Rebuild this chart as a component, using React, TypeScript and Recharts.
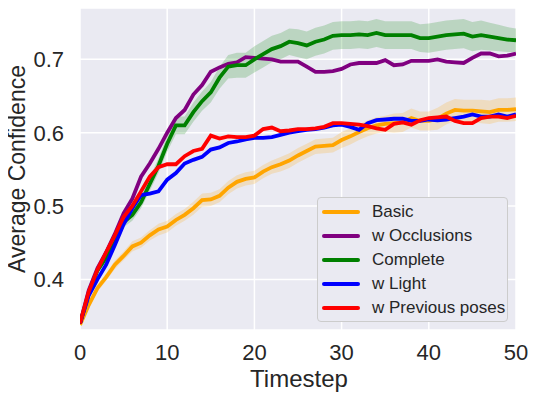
import {
  ComposedChart,
  Line,
  Area,
  XAxis,
  YAxis,
  CartesianGrid,
  Legend,
  Label,
} from "recharts";

const timesteps = [
  0, 1, 2, 3, 4, 5, 6, 7, 8, 9, 10, 11, 12, 13, 14, 15, 16, 17, 18, 19, 20, 21, 22, 23, 24, 25,
  26, 27, 28, 29, 30, 31, 32, 33, 34, 35, 36, 37, 38, 39, 40, 41, 42, 43, 44, 45, 46, 47, 48, 49, 50,
];

const basic = [
  0.338, 0.365, 0.388, 0.403, 0.42, 0.432, 0.445, 0.45, 0.46, 0.468, 0.472, 0.481, 0.488, 0.497,
  0.508, 0.509, 0.514, 0.525, 0.533, 0.537, 0.539, 0.547, 0.553, 0.557, 0.562, 0.569, 0.575, 0.581,
  0.582, 0.583, 0.59, 0.595, 0.601, 0.606, 0.61, 0.612, 0.613, 0.614, 0.62, 0.616, 0.616, 0.619,
  0.626, 0.631, 0.63, 0.63, 0.629, 0.628, 0.631, 0.631, 0.632,
];
const occlusions = [
  0.34, 0.385, 0.415, 0.437, 0.462, 0.49, 0.51, 0.54, 0.558, 0.578, 0.6, 0.62, 0.631, 0.652, 0.665,
  0.683, 0.689, 0.694, 0.696, 0.703, 0.702, 0.701, 0.7, 0.697, 0.697, 0.697, 0.69, 0.683, 0.683,
  0.684, 0.687, 0.693, 0.695, 0.695, 0.695, 0.699, 0.692, 0.693, 0.698, 0.698, 0.698, 0.7, 0.697,
  0.696, 0.695, 0.702, 0.708, 0.708, 0.704, 0.705, 0.708,
];
const complete = [
  0.34, 0.38, 0.412, 0.43, 0.45, 0.478, 0.488, 0.505, 0.53, 0.555, 0.585, 0.61, 0.61, 0.628, 0.643,
  0.655, 0.675, 0.69, 0.692, 0.692, 0.7, 0.707, 0.714, 0.718, 0.724, 0.722, 0.719, 0.724, 0.727,
  0.732, 0.733, 0.733, 0.734, 0.733, 0.736, 0.733, 0.733, 0.733, 0.733, 0.729, 0.729, 0.731, 0.733,
  0.734, 0.735, 0.731, 0.733, 0.731, 0.729, 0.727, 0.726,
];
const light = [
  0.34, 0.378, 0.4, 0.42, 0.447, 0.475, 0.497, 0.515, 0.517, 0.52, 0.536, 0.545, 0.558, 0.563,
  0.567, 0.577, 0.58, 0.586, 0.588, 0.591, 0.593, 0.593, 0.594, 0.597, 0.6, 0.602, 0.604, 0.605,
  0.607, 0.61, 0.611, 0.608, 0.604, 0.613, 0.617, 0.618, 0.619, 0.619, 0.616, 0.616, 0.618, 0.617,
  0.618, 0.62, 0.622, 0.625, 0.622, 0.622, 0.625, 0.622, 0.625,
];
const prevPoses = [
  0.34, 0.383, 0.413, 0.437, 0.46, 0.485, 0.5, 0.52, 0.54, 0.553, 0.557, 0.557, 0.568, 0.575, 0.578,
  0.596, 0.592, 0.595, 0.594, 0.594, 0.596, 0.605, 0.607, 0.602, 0.603, 0.605, 0.605, 0.606, 0.608,
  0.613, 0.613, 0.612, 0.611, 0.609, 0.606, 0.604, 0.612, 0.614, 0.611, 0.617, 0.62, 0.621, 0.622,
  0.616, 0.613, 0.613, 0.62, 0.622, 0.622, 0.62, 0.623,
];

// half-width of the shaded confidence bands
const basicSpread = [
  0, 0.004, 0.005, 0.005, 0.006, 0.006, 0.007, 0.007, 0.007, 0.008, 0.008, 0.008, 0.008, 0.009,
  0.009, 0.009, 0.009, 0.009, 0.009, 0.009, 0.009, 0.009, 0.009, 0.01, 0.01, 0.01, 0.01, 0.01,
  0.01, 0.01, 0.011, 0.011, 0.011, 0.011, 0.011, 0.011, 0.013, 0.013, 0.013, 0.013, 0.013, 0.015,
  0.015, 0.015, 0.015, 0.015, 0.016, 0.016, 0.016, 0.016, 0.016,
];
const completeSpread = [
  0, 0.003, 0.004, 0.005, 0.006, 0.007, 0.008, 0.008, 0.009, 0.01, 0.011, 0.012, 0.012, 0.013,
  0.013, 0.014, 0.015, 0.016, 0.017, 0.017, 0.018, 0.018, 0.018, 0.018, 0.018, 0.019, 0.019, 0.019,
  0.019, 0.019, 0.019, 0.019, 0.019, 0.019, 0.019, 0.019, 0.019, 0.019, 0.019, 0.019, 0.02, 0.02,
  0.02, 0.02, 0.02, 0.02, 0.02, 0.019, 0.018, 0.017, 0.016,
];

const xTicks = [0, 10, 20, 30, 40, 50];
const yTicks = [0.4, 0.5, 0.6, 0.7];

const series = [
  { key: "basic", name: "Basic", color: "#FFA500" },
  { key: "occlusions", name: "w Occlusions", color: "#800080" },
  { key: "complete", name: "Complete", color: "#008000" },
  { key: "light", name: "w Light", color: "#0000FF" },
  { key: "prevPoses", name: "w Previous poses", color: "#FF0000" },
];

const rows = timesteps.map((t, i) => ({
  t,
  basic: basic[i],
  occlusions: occlusions[i],
  complete: complete[i],
  light: light[i],
  prevPoses: prevPoses[i],
  basicBand: [basic[i] - basicSpread[i], basic[i] + basicSpread[i]],
  completeBand: [complete[i] - completeSpread[i], complete[i] + completeSpread[i]],
}));

const FONT = '"Liberation Sans", Arial, sans-serif';
const TEXT = "#262626";

function LegendBox() {
  return (
    <div
      style={{
        background: "#EAEAF2",
        border: "1px solid #CCCCCC",
        borderRadius: 4,
        padding: "2px 0 3px 4px",
        boxSizing: "border-box",
        width: 191,
        height: 125,
        fontFamily: FONT,
        fontSize: 17,
        color: TEXT,
      }}
    >
      {series.map((s) => (
        <div key={s.key} style={{ display: "flex", alignItems: "center", height: 24 }}>
          <span
            style={{
              display: "inline-block",
              width: 38,
              height: 4,
              background: s.color,
              borderRadius: 2,
              marginRight: 12,
            }}
          />
          <span>{s.name}</span>
        </div>
      ))}
    </div>
  );
}

export default function App() {
  return (
    <ComposedChart
      width={530}
      height={391}
      data={rows}
      margin={{ top: 0, right: 22, left: 0, bottom: 0 }}
      style={{ overflow: "visible" }}
    >
      <CartesianGrid fill="#EAEAF2" stroke="#FFFFFF" strokeWidth={1.5} />
      <XAxis
        dataKey="t"
        type="number"
        domain={[0, 50]}
        ticks={xTicks}
        height={69}
        axisLine={false}
        tickLine={false}
        tickSize={0}
        tickMargin={14}
        tick={{ fontSize: 22, fill: TEXT, fontFamily: FONT }}
        allowDataOverflow
      >
        <Label
          content={() => (
            <text x={291} y={379} textAnchor="middle" fontSize={24} fill={TEXT} fontFamily={FONT}>
              Timestep
            </text>
          )}
        />
      </XAxis>
      <YAxis
        type="number"
        domain={[0.331, 0.77]}
        ticks={yTicks}
        width={72}
        axisLine={false}
        tickLine={false}
        tickSize={0}
        tickMargin={16}
        tickFormatter={(v: number) => v.toFixed(1)}
        tick={{ fontSize: 22, fill: TEXT, fontFamily: FONT }}
        allowDataOverflow
      >
        <Label
          content={() => (
            <text
              x={17}
              y={161}
              transform="rotate(-90, 17, 161)"
              textAnchor="middle"
              fontSize={23}
              fill={TEXT}
              fontFamily={FONT}
            >
              Average Confidence
            </text>
          )}
        />
      </YAxis>

      <Area
        dataKey="basicBand"
        stroke="none"
        fill="#FFA500"
        fillOpacity={0.2}
        legendType="none"
        isAnimationActive={false}
      />
      <Area
        dataKey="completeBand"
        stroke="none"
        fill="#008000"
        fillOpacity={0.2}
        legendType="none"
        isAnimationActive={false}
      />

      {series.map((s) => (
        <Line
          key={s.key}
          dataKey={s.key}
          name={s.name}
          type="linear"
          stroke={s.color}
          strokeWidth={3.8}
          dot={false}
          activeDot={false}
          isAnimationActive={false}
        />
      ))}

      <Legend
        layout="horizontal"
        align="center"
        verticalAlign="middle"
        content={() => <LegendBox />}
        wrapperStyle={{ left: 309, top: 189, width: 191, height: 125 }}
      />
    </ComposedChart>
  );
}
